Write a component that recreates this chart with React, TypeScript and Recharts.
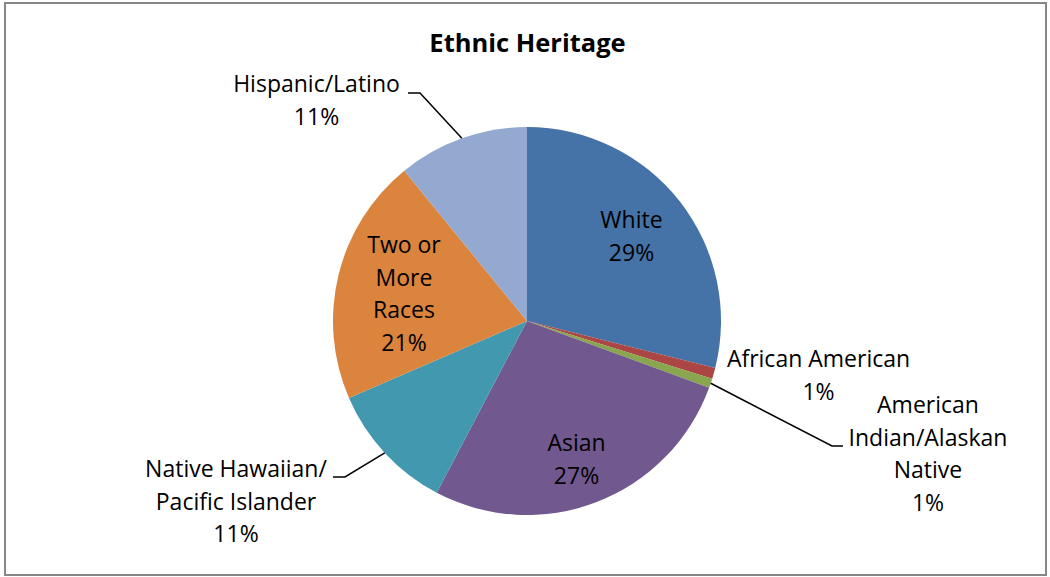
import { PieChart, Pie, Cell } from 'recharts';

const categories = [
  'White',
  'African American',
  'American Indian/Alaskan Native',
  'Asian',
  'Native Hawaiian/Pacific Islander',
  'Two or More Races',
  'Hispanic/Latino',
];
const shares = [28.9, 0.9, 0.8, 27.1, 10.8, 20.6, 10.9];
const labelLines = [
  ['White'],
  ['African American'],
  ['American', 'Indian/Alaskan', 'Native'],
  ['Asian'],
  ['Native Hawaiian/', 'Pacific Islander'],
  ['Two or', 'More', 'Races'],
  ['Hispanic/Latino'],
];
const colors = ['#4572A7', '#AA4643', '#89A54E', '#71588F', '#4198AF', '#DB843D', '#93A9CF'];

// label placement relative to pie centre; leader = [elbow, end] when the label sits away from its slice
const labelPlace: { dx: number; dy: number; leader?: [number, number][] }[] = [
  { dx: 104.5, dy: -93 },
  { dx: 291.5, dy: 46 },
  { dx: 401, dy: 92, leader: [[305, 125], [316, 125]] },
  { dx: 49.5, dy: 130 },
  { dx: -291, dy: 156, leader: [[-182, 156], [-194, 156]] },
  { dx: -123, dy: -68 },
  { dx: -210.5, dy: -229, leader: [[-107, -228], [-119, -228]] },
];

const data = categories.map((name, i) => ({ name, value: shares[i] }));
const total = shares.reduce((a, b) => a + b, 0);

const FONT = '"Open Sans", Lato, sans-serif';
const RADIAN = Math.PI / 180;
const LINE_H = 32.5;

const renderLabel = (props: any) => {
  const { cx, cy, midAngle, outerRadius, index, value } = props;
  const place = labelPlace[index];
  const lines = [...labelLines[index], `${Math.round((value / total) * 100)}%`];
  const x = cx + place.dx;
  const y0 = cy + place.dy;
  let leader = null;
  if (place.leader) {
    const sx = cx + outerRadius * Math.cos(-midAngle * RADIAN);
    const sy = cy + outerRadius * Math.sin(-midAngle * RADIAN);
    const pts = [[sx, sy], ...place.leader.map(([a, b]) => [cx + a, cy + b])];
    leader = (
      <polyline
        points={pts.map((p) => p.join(',')).join(' ')}
        fill="none"
        stroke="#000"
        strokeWidth={1.5}
      />
    );
  }
  return (
    <g key={`lbl-${index}`}>
      {leader}
      <text x={x} y={y0} textAnchor="middle" fontFamily={FONT} fontSize={23} fill="#000">
        {lines.map((t, i) => (
          <tspan key={i} x={x} y={y0 + i * LINE_H}>
            {t}
          </tspan>
        ))}
      </text>
    </g>
  );
};

export default function App() {
  return (
    <div style={{ position: 'absolute', left: 0, top: 0, width: 1050, height: 577, background: '#fff' }}>
      <div
        style={{
          position: 'absolute',
          left: 4,
          top: 2,
          width: 1039,
          height: 570,
          border: '2px solid #878787',
        }}
      />
      <svg style={{ position: 'absolute', left: 0, top: 0 }} width={1050} height={80}>
        <text x={527.5} y={52} textAnchor="middle" fontFamily={FONT} fontWeight="bold" fontSize={25.5} fill="#000">
          Ethnic Heritage
        </text>
      </svg>
      <div style={{ position: 'absolute', left: 0, top: 0 }}>
        <PieChart width={1050} height={577} margin={{ top: 0, right: 0, bottom: 0, left: 0 }}>
          <Pie
            data={data}
            dataKey="value"
            nameKey="name"
            cx={527}
            cy={321}
            outerRadius={194}
            startAngle={90}
            endAngle={-270}
            stroke="none"
            label={renderLabel}
            labelLine={false}
            isAnimationActive={false}
          >
            {data.map((d, i) => (
              <Cell key={d.name} fill={colors[i]} />
            ))}
          </Pie>
        </PieChart>
      </div>
    </div>
  );
}
